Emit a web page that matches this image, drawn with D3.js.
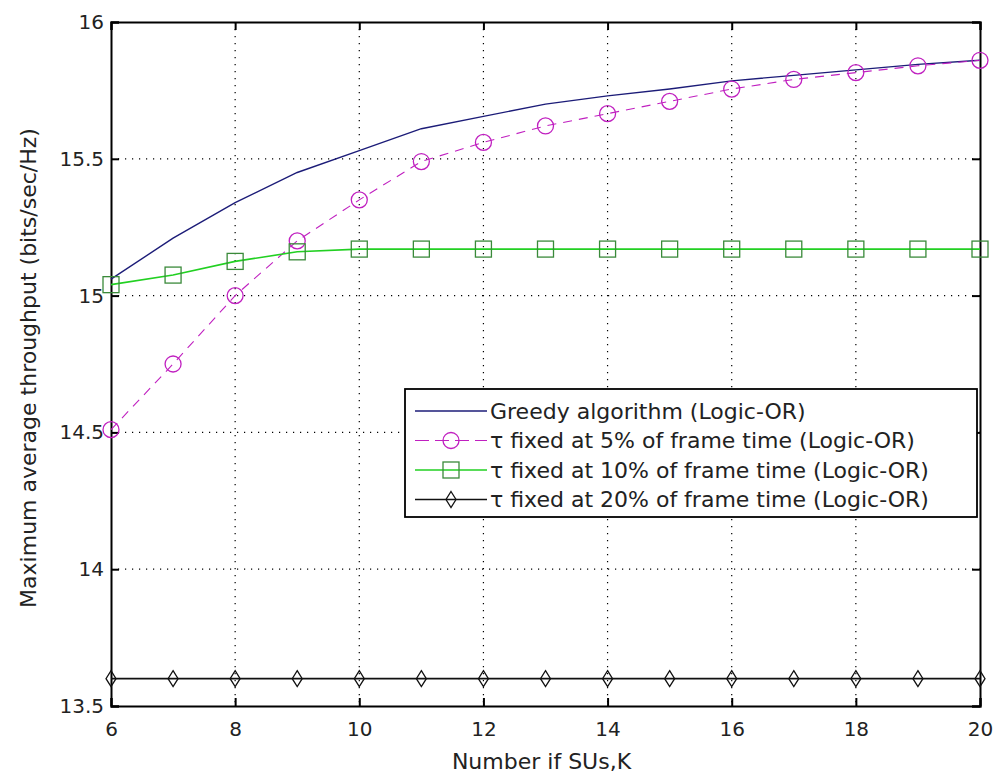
<!DOCTYPE html>
<html>
<head>
<meta charset="utf-8">
<script src="https://cdn.jsdelivr.net/npm/d3@7"></script>
<style>
  html, body { margin: 0; padding: 0; background: #fff; }
  svg { display: block; font-family: "DejaVu Sans", Verdana, sans-serif; }
</style>
</head>
<body>
<svg id="chart" width="997" height="778"></svg>
<script>
// Number of secondary users K
const users = [6, 7, 8, 9, 10, 11, 12, 13, 14, 15, 16, 17, 18, 19, 20];

// Maximum average throughput (bits/sec/Hz) per scheme
const greedy   = [15.06, 15.21, 15.34, 15.45, 15.53, 15.61, 15.655, 15.70, 15.73, 15.755, 15.785, 15.805, 15.825, 15.845, 15.86];
const fixed5   = [14.51, 14.75, 15.00, 15.20, 15.35, 15.49, 15.56, 15.62, 15.665, 15.71, 15.755, 15.79, 15.815, 15.84, 15.86];
const fixed10  = [15.04, 15.075, 15.125, 15.16, 15.17, 15.17, 15.17, 15.17, 15.17, 15.17, 15.17, 15.17, 15.17, 15.17, 15.17];
const fixed20  = [13.60, 13.60, 13.60, 13.60, 13.60, 13.60, 13.60, 13.60, 13.60, 13.60, 13.60, 13.60, 13.60, 13.60, 13.60];

const xTicks = [6, 8, 10, 12, 14, 16, 18, 20];
const yTicks = [13.5, 14, 14.5, 15, 15.5, 16];

const legendLabels = [
  "Greedy algorithm (Logic-OR)",
  "\u03c4 fixed at 5% of frame time (Logic-OR)",
  "\u03c4 fixed at 10% of frame time (Logic-OR)",
  "\u03c4 fixed at 20% of frame time (Logic-OR)"
];
const xLabel = "Number if SUs,K";
const yLabel = "Maximum average throughput (bits/sec/Hz)";

const series = [
  { values: greedy,  color: "#1c1c78", dash: null,  marker: null,      width: 1.4 },
  { values: fixed5,  color: "#c020c0", dash: "9,7", marker: "circle",  width: 1.1 },
  { values: fixed10, color: "#22d022", dash: null,  marker: "square",  width: 1.6 },
  { values: fixed20, color: "#111111", dash: null,  marker: "diamond", width: 1.6 }
];

const svg = d3.select("#chart");
const m = { left: 111, right: 980, top: 22, bottom: 706 };

const x = d3.scaleLinear().domain([6, 20]).range([m.left, m.right]);
const y = d3.scaleLinear().domain([13.5, 16]).range([m.bottom, m.top]);

// Dotted grid
const grid = svg.append("g").attr("stroke", "#000").attr("stroke-width", 1.2)
  .attr("stroke-dasharray", "1.2,5.8");
grid.selectAll(".gx").data(xTicks.slice(1, -1)).join("line")
  .attr("x1", d => x(d)).attr("x2", d => x(d))
  .attr("y1", m.top).attr("y2", m.bottom);
grid.selectAll(".gy").data(yTicks.slice(1, -1)).join("line")
  .attr("x1", m.left).attr("x2", m.right)
  .attr("y1", d => y(d)).attr("y2", d => y(d));

// Axes (ticks pointing inward on all four sides)
const tickLen = 8;
const axisFont = "20px";
const bottomAxis = svg.append("g").attr("transform", `translate(0,${m.bottom})`)
  .call(d3.axisBottom(x).tickValues(xTicks).tickSize(-tickLen).tickPadding(16).tickFormat(d3.format("d")));
const topAxis = svg.append("g").attr("transform", `translate(0,${m.top})`)
  .call(d3.axisTop(x).tickValues(xTicks).tickSize(-tickLen).tickFormat(""));
const leftAxis = svg.append("g").attr("transform", `translate(${m.left},0)`)
  .call(d3.axisLeft(y).tickValues(yTicks).tickSize(-tickLen).tickPadding(7).tickFormat(d => d3.format("")(d)));
const rightAxis = svg.append("g").attr("transform", `translate(${m.right},0)`)
  .call(d3.axisRight(y).tickValues(yTicks).tickSize(-tickLen).tickFormat(""));

[bottomAxis, topAxis, leftAxis, rightAxis].forEach(g => {
  g.select(".domain").attr("stroke", "#000").attr("stroke-width", 2);
  g.selectAll(".tick line").attr("stroke", "#000").attr("stroke-width", 2);
  g.selectAll(".tick text").attr("fill", "#222").style("font-size", axisFont)
    .style("font-family", "'DejaVu Sans', Verdana, sans-serif");
});

// Series lines and markers
const line = d3.line().x((d, i) => x(users[i])).y(d => y(d));

function drawMarker(g, type, color) {
  if (type === "circle") {
    g.append("circle").attr("r", 8).attr("fill", "none").attr("stroke", color).attr("stroke-width", 1.3);
  } else if (type === "square") {
    g.append("rect").attr("x", -8).attr("y", -8).attr("width", 16).attr("height", 16)
      .attr("fill", "none").attr("stroke", "#3a8a3a").attr("stroke-width", 1.3);
  } else if (type === "diamond") {
    g.append("path").attr("d", "M0,-8L5,0L0,8L-5,0Z")
      .attr("fill", "none").attr("stroke", color).attr("stroke-width", 1.3);
  }
}

series.forEach(s => {
  svg.append("path").datum(s.values)
    .attr("d", line)
    .attr("fill", "none")
    .attr("stroke", s.color)
    .attr("stroke-width", s.width)
    .attr("stroke-dasharray", s.dash);
  if (s.marker) {
    svg.append("g").selectAll("g").data(s.values).join("g")
      .attr("transform", (d, i) => `translate(${x(users[i])},${y(d)})`)
      .each(function () { drawMarker(d3.select(this), s.marker, s.color); });
  }
});

// Axis titles
svg.append("text")
  .attr("x", (m.left + m.right) / 2 - 4).attr("y", 769)
  .attr("text-anchor", "middle").attr("fill", "#222")
  .style("font-size", "22px").text(xLabel);
svg.append("text")
  .attr("transform", `translate(36,${(m.top + m.bottom) / 2 + 4}) rotate(-90)`)
  .attr("text-anchor", "middle").attr("fill", "#222")
  .style("font-size", "22px").text(yLabel);

// Legend
const lg = { x: 405, y: 389, w: 572, h: 128, row: 29.5, first: 22 };
const legend = svg.append("g");
legend.append("rect").attr("x", lg.x).attr("y", lg.y).attr("width", lg.w).attr("height", lg.h)
  .attr("fill", "#fff").attr("stroke", "#000").attr("stroke-width", 1.8);
series.forEach((s, i) => {
  const cy = lg.y + lg.first + i * lg.row;
  legend.append("line").attr("x1", lg.x + 10).attr("x2", lg.x + 82)
    .attr("y1", cy).attr("y2", cy)
    .attr("stroke", s.color).attr("stroke-width", s.width)
    .attr("stroke-dasharray", s.dash ? "14,6" : null);
  if (s.marker) {
    const g = legend.append("g").attr("transform", `translate(${lg.x + 46},${cy})`);
    drawMarker(g, s.marker, s.color);
  }
  legend.append("text").attr("x", lg.x + 85).attr("y", cy).attr("dy", "0.36em")
    .attr("fill", "#222").style("font-size", "22px").text(legendLabels[i]);
});
</script>
</body>
</html>
